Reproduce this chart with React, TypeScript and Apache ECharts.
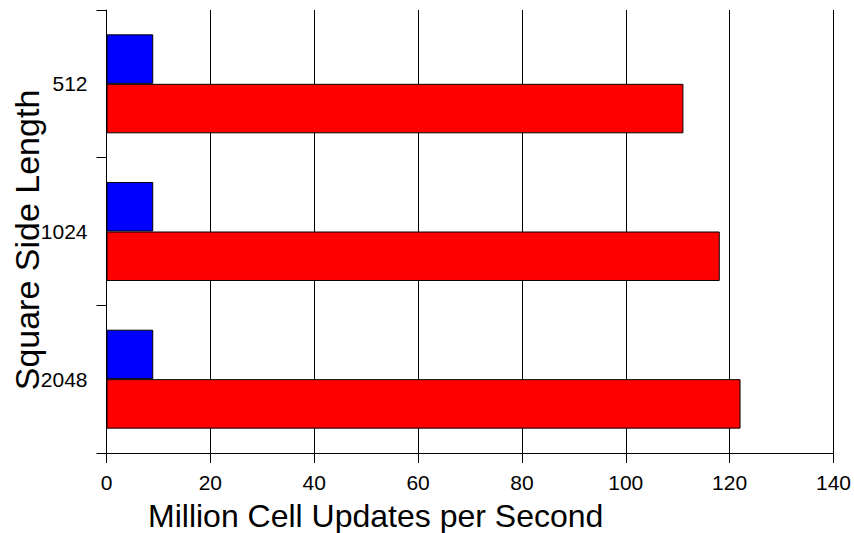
import React, { useEffect, useRef } from "react";
import * as echarts from "echarts";

const categories = ["512", "1024", "2048"];
const blueValues = [9, 9, 9];
const redValues = [111.1, 118.1, 122.1];
const xTicks = { min: 0, max: 140, interval: 20 };
const xTitle = "Million Cell Updates per Second";
const yTitle = "Square Side Length";

export default function App() {
  const ref = useRef<HTMLDivElement>(null);
  useEffect(() => {
    if (!ref.current) return;
    const chart = echarts.init(ref.current, null, { renderer: "svg" });
    const font = "'Liberation Sans', Arial, sans-serif";
    chart.setOption({
      animation: false,
      backgroundColor: "#ffffff",
      grid: { left: 106.5, right: 19, top: 10, bottom: 80, containLabel: false },
      xAxis: {
        type: "value",
        min: xTicks.min,
        max: xTicks.max,
        interval: xTicks.interval,
        axisLine: { show: true, lineStyle: { color: "#000", width: 1 } },
        axisTick: { show: true, length: 10, lineStyle: { color: "#000", width: 1 } },
        axisLabel: { color: "#000", fontSize: 21, fontFamily: font, margin: 19 },
        splitLine: { show: true, lineStyle: { color: "#000", width: 1 } },
      },
      yAxis: {
        type: "category",
        data: categories,
        inverse: true,
        axisLine: { show: true, lineStyle: { color: "#000", width: 1 } },
        axisTick: { show: true, length: 10, lineStyle: { color: "#000", width: 1 } },
        axisLabel: { color: "#000", fontSize: 21, fontFamily: font, margin: 19 },
        splitLine: { show: false },
      },
      series: [
        {
          type: "bar",
          data: blueValues,
          itemStyle: { color: "#0000ff", borderColor: "#000", borderWidth: 1 },
          barGap: "0%",
          barCategoryGap: "33%",
        },
        {
          type: "bar",
          data: redValues,
          itemStyle: { color: "#ff0000", borderColor: "#000", borderWidth: 1 },
          barGap: "0%",
          barCategoryGap: "33%",
        },
      ],
      graphic: [
        {
          type: "text",
          x: 148,
          y: 516,
          style: {
            text: xTitle,
            fontSize: 32,
            fontFamily: font,
            fill: "#000",
            textAlign: "left",
            textVerticalAlign: "middle",
          },
        },
        {
          type: "text",
          x: 27,
          y: 240,
          rotation: Math.PI / 2,
          style: {
            text: yTitle,
            fontSize: 34,
            fontFamily: font,
            fill: "#000",
            textAlign: "center",
            textVerticalAlign: "middle",
          },
        },
      ],
    });
    return () => chart.dispose();
  }, []);
  return <div ref={ref} style={{ width: 854, height: 533, position: "absolute", left: 0, top: 0 }} />;
}
